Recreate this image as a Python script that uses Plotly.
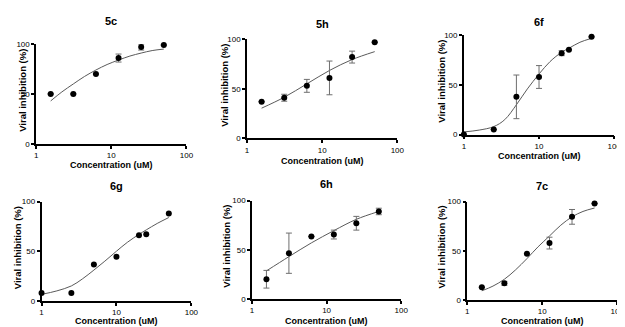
import plotly.graph_objects as go

W, H = 625, 327

# ---- data ----
titles = ["5c", "5h", "6f", "6g", "6h", "7c"]

x_5c = [1.5625, 3.125, 6.25, 12.5, 25, 50]
y_5c = [50, 50, 70, 86, 97, 99]
e_5c = [0, 0, 0, 4, 3, 0]
cx_5c = [1.5625, 2.2, 3.125, 4.4, 6.25, 8.8, 12.5, 17.7, 25, 35, 50]
cy_5c = [43, 52, 60, 67.5, 74, 79.5, 84, 88, 91, 93.5, 95]

x_5h = [1.5625, 3.125, 6.25, 12.5, 25, 50]
y_5h = [37, 41, 53, 61, 82, 97]
e_5h = [0, 3.5, 6.5, 17, 6, 0]
cx_5h = [1.5625, 3.125, 6.25, 12.5, 25, 50]
cy_5h = [30.5, 41.5, 55, 68.5, 79.5, 87.5]

x_6f = [1, 2.5, 5, 10, 20, 25, 50]
y_6f = [0, 5, 38, 58, 82, 85.5, 98.5]
e_6f = [0, 0, 22, 11.5, 2.5, 0, 0]
cx_6f = [1, 1.6, 2.5, 3.5, 5, 7, 10, 14, 20, 25, 35, 50]
cy_6f = [2.6, 4.5, 8, 15, 30, 46, 61, 73.5, 83, 87, 93, 97]

x_6g = [1, 2.5, 5, 10, 20, 25, 50]
y_6g = [8, 8, 36.5, 44.5, 66, 67, 88]
cx_6g = [1, 1.6, 2.5, 3.5, 5, 7, 10, 14, 20, 25, 35, 50]
cy_6g = [6.5, 10, 15, 22, 31, 40, 50, 59, 67, 71.5, 78, 84]

x_6h = [1.5625, 3.125, 6.25, 12.5, 25, 50]
y_6h = [20, 46.5, 63.5, 65.5, 77, 89]
e_6h = [9, 20.5, 0, 4.5, 7, 3.3]
cx_6h = [1.5625, 3.125, 6.25, 12.5, 25, 50]
cy_6h = [28.5, 43, 57, 69.5, 81, 89]

x_7c = [1.5625, 3.125, 6.25, 12.5, 25, 50]
y_7c = [12.9, 16.8, 47, 57.8, 84.5, 98]
e_7c = [0, 2, 0, 6, 7.5, 0]
cx_7c = [1.5625, 2.2, 3.125, 4.4, 6.25, 8.8, 12.5, 17.7, 25, 35, 50]
cy_7c = [9.2, 14, 21, 30.5, 42, 54, 65, 76, 84.5, 90, 93.5]

x_ticks = [1, 10, 100]
x_ticktext = ["1", "10", "100"]
y_ticks = [0, 50, 100]
y_ticktext = ["0", "50", "100"]

panels = [
    ("5c", x_5c, y_5c, e_5c, cx_5c, cy_5c),
    ("5h", x_5h, y_5h, e_5h, cx_5h, cy_5h),
    ("6f", x_6f, y_6f, e_6f, cx_6f, cy_6f),
    ("6g", x_6g, y_6g, None, cx_6g, cy_6g),
    ("6h", x_6h, y_6h, e_6h, cx_6h, cy_6h),
    ("7c", x_7c, y_7c, e_7c, cx_7c, cy_7c),
]

# ---- layout geometry (pixels): x-axis left/right, y-axis bottom(0)/top(100) ----
geom = [
    dict(xl=26.5, xr=179, yb=135.5, yt=33, ty=9, xty=157, ytx=12),
    dict(xl=240.5, xr=393, yb=130, yt=28, ty=12, xty=153, ytx=218),
    dict(xl=460.5, xr=613, yb=126, yt=24, ty=10, xty=148, ytx=437),
    dict(xl=32, xr=184, yb=297, yt=195, ty=179, xty=318, ytx=7),
    dict(xl=245.5, xr=397, yb=295, yt=194, ty=177, xty=318, ytx=220),
    dict(xl=464, xr=616, yb=296, yt=195, ty=179, xty=318, ytx=438),
]

FONT = "Liberation Sans, Arial, sans-serif"
fig = go.Figure()
annotations = []
layout_axes = {}

for i, ((name, xs, ys, es, cxs, cys), g) in enumerate(zip(panels, geom)):
    n = i + 1
    xa = "x" if n == 1 else f"x{n}"
    ya = "y" if n == 1 else f"y{n}"
    # fitted curve
    fig.add_trace(go.Scatter(
        x=cxs, y=cys, xaxis=xa, yaxis=ya, mode="lines",
        line=dict(color="#5a5a5a", width=1, shape="spline", smoothing=1.0),
        showlegend=False, hoverinfo="skip", cliponaxis=False))
    # data points
    err = None
    if es is not None:
        err = dict(type="data", array=es, visible=True, color="#6e6e6e",
                   thickness=1, width=3)
    fig.add_trace(go.Scatter(
        x=xs, y=ys, xaxis=xa, yaxis=ya, mode="markers",
        marker=dict(color="black", size=6),
        error_y=err, showlegend=False, cliponaxis=False))

    xd = [g["xl"] / W, g["xr"] / W]
    yd = [1 - g["yb"] / H, 1 - g["yt"] / H]
    layout_axes["xaxis" if n == 1 else f"xaxis{n}"] = dict(
        type="log", range=[0, 2], domain=xd, anchor=ya,
        tickvals=x_ticks, ticktext=x_ticktext,
        showline=True, linecolor="black", linewidth=1.5,
        ticks="outside", ticklen=3, tickwidth=1.5, tickcolor="black",
        showgrid=False, zeroline=False,
        tickfont=dict(family=FONT, size=8, color="black"))
    layout_axes["yaxis" if n == 1 else f"yaxis{n}"] = dict(
        range=[0, 100], domain=yd, anchor=xa,
        tickvals=y_ticks, ticktext=y_ticktext,
        showline=True, linecolor="black", linewidth=1.5,
        ticks="outside", ticklen=3, tickwidth=1.5, tickcolor="black",
        showgrid=False, zeroline=False,
        tickfont=dict(family=FONT, size=8, color="black"))

    xc = (g["xl"] + g["xr"]) / 2
    ymid = (g["yb"] + g["yt"]) / 2 - 4
    annotations.append(dict(
        text=f"<b>{name}</b>", x=xc / W, y=1 - g["ty"] / H, xref="paper", yref="paper",
        xanchor="center", yanchor="middle", showarrow=False,
        font=dict(family=FONT, size=11, color="black")))
    annotations.append(dict(
        text="<b>Concentration (uM)</b>", x=xc / W, y=1 - g["xty"] / H,
        xref="paper", yref="paper", xanchor="center", yanchor="middle",
        showarrow=False, font=dict(family=FONT, size=9, color="black")))
    annotations.append(dict(
        text="<b>Viral inhibition (%)</b>", x=g["ytx"] / W, y=1 - ymid / H,
        xref="paper", yref="paper", xanchor="center", yanchor="middle",
        textangle=-90, showarrow=False,
        font=dict(family=FONT, size=9.5, color="black")))

fig.update_layout(
    width=W, height=H,
    margin=dict(l=0, r=0, t=0, b=0),
    paper_bgcolor="white", plot_bgcolor="white",
    annotations=annotations,
    **layout_axes)

fig.write_html("out.html")
